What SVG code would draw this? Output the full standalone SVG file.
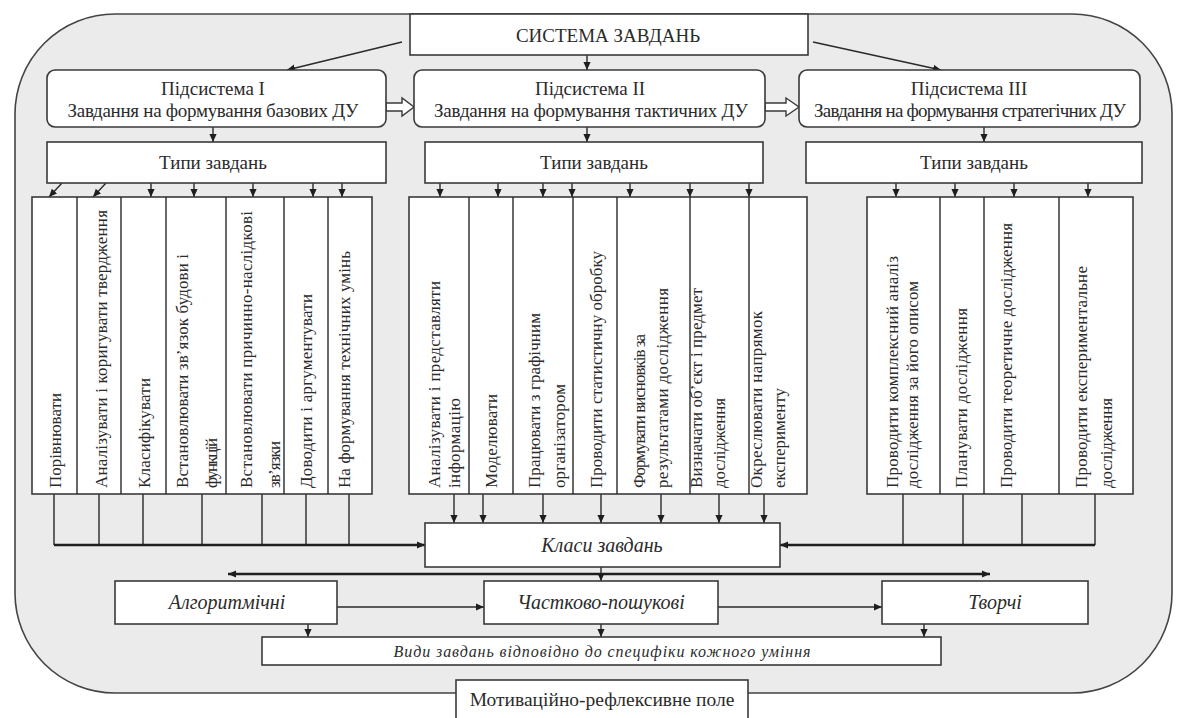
<svg xmlns="http://www.w3.org/2000/svg" width="1182" height="718" viewBox="0 0 1182 718">
<style>
.bx{fill:#fff;stroke:#3a3a3a;stroke-width:1.6}
.t{font-family:"Liberation Serif","Times New Roman","DejaVu Serif",serif;font-size:19px;fill:#2b2b2b;text-anchor:middle}
.ti{font-family:"Liberation Serif","Times New Roman","DejaVu Serif",serif;font-size:20px;font-style:italic;fill:#2b2b2b;text-anchor:middle}
.v{font-family:"Liberation Serif","Times New Roman","DejaVu Serif",serif;font-size:17px;fill:#2b2b2b;text-anchor:start}
.ln{fill:none;stroke:#2a2a2a;stroke-width:1.4}
.lk{fill:none;stroke:#1e1e1e;stroke-width:2.4}
.ho{fill:#fff;stroke:#3a3a3a;stroke-width:1.4}
</style>
<defs>
<marker id="ah" viewBox="0 0 10 10" refX="10" refY="5" markerWidth="8" markerHeight="8" markerUnits="userSpaceOnUse" orient="auto"><path d="M0,0.5 L10,5 L0,9.5 z" fill="#1e1e1e"/></marker>
</defs>
<rect id="field" x="15" y="14" width="1157" height="679" rx="100" ry="100" fill="#ebebeb" stroke="#444" stroke-width="1.6"/>

<g id="connectors">
<path class="ln" marker-end="url(#ah)" d="M402,42 L287,70"/>
<path class="ln" marker-end="url(#ah)" d="M587,55 V70"/>
<path class="ln" marker-end="url(#ah)" d="M813,42 L941,70"/>
<path class="ln" marker-end="url(#ah)" d="M213,127 V142"/>
<path class="ln" marker-end="url(#ah)" d="M587,127 V142"/>
<path class="ln" marker-end="url(#ah)" d="M984,127 V142"/>
<polygon class="ho" points="386,103 402,103 402,98 414,107 402,116 402,111 386,111"/>
<polygon class="ho" points="765,103 786,103 786,98 799,107 786,116 786,111 765,111"/>
<!-- left group inputs -->
<path class="ln" marker-end="url(#ah)" d="M62,183 L49,197"/>
<path class="ln" marker-end="url(#ah)" d="M106,183 L93,197"/>
<path class="ln" marker-end="url(#ah)" d="M151,183 V197"/>
<path class="ln" marker-end="url(#ah)" d="M194,183 V197"/>
<path class="ln" marker-end="url(#ah)" d="M253,183 V197"/>
<path class="ln" marker-end="url(#ah)" d="M313,183 V197"/>
<path class="ln" marker-end="url(#ah)" d="M342,183 V197"/>
<!-- middle group inputs -->
<path class="ln" marker-end="url(#ah)" d="M440,183 V197"/>
<path class="ln" marker-end="url(#ah)" d="M498,183 V197"/>
<path class="ln" marker-end="url(#ah)" d="M543,183 V197"/>
<path class="ln" marker-end="url(#ah)" d="M572,183 V197"/>
<path class="ln" marker-end="url(#ah)" d="M630,183 V197"/>
<path class="ln" marker-end="url(#ah)" d="M690,183 V197"/>
<path class="ln" marker-end="url(#ah)" d="M749,183 V197"/>
<!-- right group inputs -->
<path class="ln" marker-end="url(#ah)" d="M896,183 V197"/>
<path class="ln" marker-end="url(#ah)" d="M955,183 V197"/>
<path class="ln" marker-end="url(#ah)" d="M1014,183 V197"/>
<path class="ln" marker-end="url(#ah)" d="M1088,183 V197"/>
<!-- left outputs -->
<path class="ln" d="M54,494 V545 M99,494 V545 M143,494 V545 M202,494 V545 M262,494 V545 M306,494 V545 M349,494 V545"/>
<path class="lk" marker-end="url(#ah)" d="M54,545 H425"/>
<!-- middle outputs -->
<path class="ln" marker-end="url(#ah)" d="M454,494 V523"/>
<path class="ln" marker-end="url(#ah)" d="M483,494 V523"/>
<path class="ln" marker-end="url(#ah)" d="M543,494 V523"/>
<path class="ln" marker-end="url(#ah)" d="M601,494 V523"/>
<path class="ln" marker-end="url(#ah)" d="M661,494 V523"/>
<path class="ln" marker-end="url(#ah)" d="M719,494 V523"/>
<path class="ln" marker-end="url(#ah)" d="M764,494 V523"/>
<!-- right outputs -->
<path class="ln" d="M903,494 V545 M963,494 V545 M1022,494 V545 M1095,494 V545"/>
<path class="lk" marker-end="url(#ah)" d="M1095,545 H780"/>
<!-- classes -->
<path class="ln" marker-end="url(#ah)" d="M601,567 V581"/>
<path class="lk" marker-end="url(#ah)" d="M601,574 H228"/>
<path class="lk" marker-end="url(#ah)" d="M601,574 H990"/>
<path class="ln" marker-end="url(#ah)" d="M337,607 H484"/>
<path class="ln" marker-end="url(#ah)" d="M718,607 H882"/>
<path class="ln" marker-end="url(#ah)" d="M308,624 V637"/>
<path class="ln" marker-end="url(#ah)" d="M601,624 V637"/>
<path class="ln" marker-end="url(#ah)" d="M924,624 V637"/>
</g>

<g id="system">
<rect class="bx" x="410" y="14" width="398" height="41"/>
<text class="t" x="608" y="42">СИСТЕМА ЗАВДАНЬ</text>
</g>

<g id="sub1">
<rect class="bx" x="47" y="70" width="339" height="57" rx="8"/>
<text class="t" x="213" y="95">Підсистема І</text>
<text class="t" x="213" y="117" textLength="291">Завдання на формування базових ДУ</text>
</g>
<g id="sub2">
<rect class="bx" x="414" y="70" width="351" height="57" rx="8"/>
<text class="t" x="590" y="95">Підсистема ІІ</text>
<text class="t" x="591" y="117" textLength="314">Завдання на формування тактичних ДУ</text>
</g>
<g id="sub3">
<rect class="bx" x="799" y="70" width="341" height="57" rx="8"/>
<text class="t" x="969" y="95">Підсистема ІІІ</text>
<text class="t" x="970" y="117" textLength="312">Завдання на формування стратегічних  ДУ</text>
</g>

<g id="types1">
<rect class="bx" x="47" y="142" width="339" height="41"/>
<text class="t" x="213" y="169">Типи завдань</text>
</g>
<g id="types2">
<rect class="bx" x="425" y="142" width="338" height="41"/>
<text class="t" x="594" y="169">Типи завдань</text>
</g>
<g id="types3">
<rect class="bx" x="806" y="142" width="336" height="41"/>
<text class="t" x="974" y="169">Типи завдань</text>
</g>

<g id="cols1">
<rect class="bx" x="32" y="197" width="340" height="297"/>
<path class="ln" d="M77,197 V494 M121,197 V494 M166,197 V494 M226,197 V494 M284,197 V494 M328,197 V494"/>
<text class="v" transform="rotate(-90 61 488)" x="61" y="488" textLength="95">Порівнювати</text>
<text class="v" transform="rotate(-90 107 488)" x="107" y="488" textLength="278">Аналізувати і коригувати твердження</text>
<text class="v" transform="rotate(-90 150 488)" x="150" y="488" textLength="110">Класифікувати</text>
<text class="v" transform="rotate(-90 188 488)" x="188" y="488" textLength="234">Встановлювати зв’язок будови  і</text>
<text class="v" transform="rotate(-90 217 488)" x="217" y="488" textLength="50">функцій</text>
<text class="v" transform="rotate(-90 252 488)" x="252" y="488" textLength="277">Встановлювати  причинно-наслідкові</text>
<text class="v" transform="rotate(-90 280 488)" x="280" y="488" textLength="47">зв’язки</text>
<text class="v" transform="rotate(-90 312 488)" x="312" y="488" textLength="194">Доводити і аргументувати</text>
<text class="v" transform="rotate(-90 350 488)" x="350" y="488" textLength="237">На формування технічних умінь</text>
</g>

<g id="cols2">
<rect class="bx" x="409" y="197" width="398" height="297"/>
<path class="ln" d="M469,197 V494 M513,197 V494 M573,197 V494 M617,197 V494 M690,197 V494 M749,197 V494"/>
<text class="v" transform="rotate(-90 440 488)" x="440" y="488" textLength="207">Аналізувати  і представляти</text>
<text class="v" transform="rotate(-90 460 488)" x="460" y="488" textLength="90">інформацію</text>
<text class="v" transform="rotate(-90 497 488)" x="497" y="488" textLength="94">Моделювати</text>
<text class="v" transform="rotate(-90 540 488)" x="540" y="488" textLength="175">Працювати з графічним</text>
<text class="v" transform="rotate(-90 565 488)" x="565" y="488" textLength="104">організатором</text>
<text class="v" transform="rotate(-90 602 488)" x="602" y="488" textLength="237">Проводити статистичну обробку</text>
<text class="v" transform="rotate(-90 645 488)" x="645" y="488" textLength="154">Формувати  висновків  за</text>
<text class="v" transform="rotate(-90 668 488)" x="668" y="488" textLength="200">результатами дослідження</text>
<text class="v" transform="rotate(-90 702 488)" x="702" y="488" textLength="200">Визначати об’єкт і предмет</text>
<text class="v" transform="rotate(-90 725 488)" x="725" y="488" textLength="90">дослідження</text>
<text class="v" transform="rotate(-90 762 488)" x="762" y="488" textLength="177">Окреслювати  напрямок</text>
<text class="v" transform="rotate(-90 785 488)" x="785" y="488" textLength="100">експерименту</text>
</g>

<g id="cols3">
<rect class="bx" x="867" y="197" width="266" height="297"/>
<path class="ln" d="M940,197 V494 M984,197 V494 M1059,197 V494"/>
<text class="v" transform="rotate(-90 898 488)" x="898" y="488" textLength="232">Проводити комплексний аналіз</text>
<text class="v" transform="rotate(-90 918 488)" x="918" y="488" textLength="207">дослідження за його описом</text>
<text class="v" transform="rotate(-90 967 488)" x="967" y="488" textLength="180">Планувати  дослідження</text>
<text class="v" transform="rotate(-90 1012 488)" x="1012" y="488" textLength="265">Проводити  теоретичне дослідження</text>
<text class="v" transform="rotate(-90 1087 488)" x="1087" y="488" textLength="222">Проводити  експериментальне</text>
<text class="v" transform="rotate(-90 1112 488)" x="1112" y="488" textLength="90">дослідження</text>
</g>

<g id="classes">
<rect class="bx" x="425" y="523" width="355" height="44"/>
<text class="ti" x="602" y="552">Класи завдань</text>
</g>
<g id="algo">
<rect class="bx" x="115" y="581" width="222" height="43"/>
<text class="ti" x="227" y="609">Алгоритмічні</text>
</g>
<g id="partial">
<rect class="bx" x="484" y="581" width="234" height="43"/>
<text class="ti" x="601" y="609">Частково-пошукові</text>
</g>
<g id="creative">
<rect class="bx" x="882" y="581" width="206" height="43"/>
<text class="ti" x="995" y="609">Творчі</text>
</g>
<g id="kinds">
<rect class="bx" x="262" y="637" width="679" height="28"/>
<text class="ti" x="602" y="657" style="font-size:16px" textLength="417">Види завдань відповідно до специфіки кожного уміння</text>
</g>
<g id="motivation">
<rect class="bx" x="456" y="680" width="292" height="40"/>
<text class="t" x="602" y="706" style="font-size:19.5px">Мотиваційно-рефлексивне поле</text>
</g>
</svg>
